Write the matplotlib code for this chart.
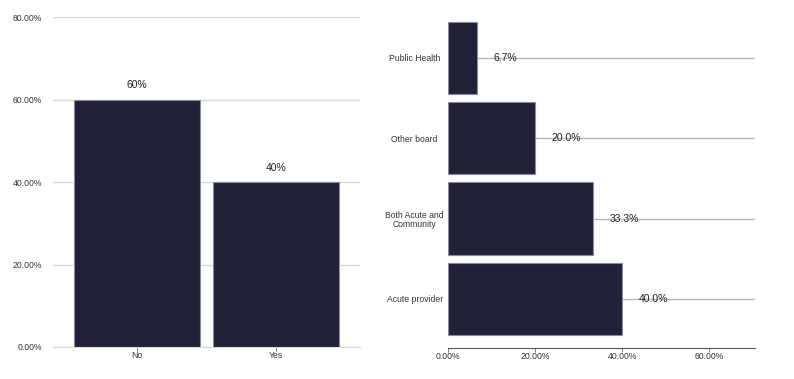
import matplotlib.pyplot as plt
from matplotlib.ticker import FuncFormatter

plt.rcParams['font.family'] = ['Liberation Sans', 'DejaVu Sans']

# Left chart data
answers = ["No", "Yes"]
answer_pct = [60, 40]
answer_labels = ["60%", "40%"]

# Right chart data (bottom to top)
providers = ["Acute provider", "Both Acute and\nCommunity", "Other board", "Public Health"]
provider_pct = [40.0, 33.3, 20.0, 6.7]

BAR = "#21213a"
EDGE = "#8a8a9a"

fig = plt.figure(figsize=(7.94, 3.79), dpi=100)
W, H = 794, 379

# left axes: x 53..360, y 17..347
ax1 = fig.add_axes([53 / W, 1 - 347 / H, (360 - 53) / W, (347 - 17) / H])
ax1.bar(range(len(answers)), answer_pct, width=0.906, color=BAR, edgecolor=EDGE, linewidth=0.8, zorder=3)
for i, (v, lab) in enumerate(zip(answer_pct, answer_labels)):
    ax1.annotate(lab, (i, v), xytext=(0, 6.5), textcoords="offset points",
                 ha="center", va="bottom", fontsize=7.5, color="#222222")
ax1.set_xlim(-0.6, 1.6)
ax1.set_ylim(0, 80)
ax1.set_yticks([0, 20, 40, 60, 80])
ax1.yaxis.set_major_formatter(FuncFormatter(lambda v, p: f"{v:.2f}%"))
ax1.set_xticks(range(len(answers)))
ax1.set_xticklabels(answers)
ax1.grid(axis="y", color="#d9d9d9", linewidth=1, zorder=0)
for s in ["top", "right", "left"]:
    ax1.spines[s].set_visible(False)
ax1.spines["bottom"].set_color("#d9d9d9")
ax1.tick_params(axis="y", length=0, pad=8, labelsize=6.2, labelcolor="#333333")
ax1.tick_params(axis="x", length=3, width=0.6, color="#666666", pad=0, labelsize=6.2, labelcolor="#333333")

# right axes: x 448..755, y 12..348
ax2 = fig.add_axes([448 / W, 1 - 348 / H, (755 - 448) / W, (348 - 12) / H])
yp = range(len(providers))
ax2.barh(yp, provider_pct, height=0.9, color=BAR, edgecolor=EDGE, linewidth=0.8, zorder=3)
for i, v in enumerate(provider_pct):
    ax2.annotate(f"{v:.1f}%", (v, i), xytext=(12, 0), textcoords="offset points",
                 ha="left", va="center", fontsize=7.5, color="#222222", zorder=4)
ax2.set_xlim(0, 70.5)
ax2.set_ylim(-0.61, 3.57)
ax2.set_xticks([0, 20, 40, 60])
ax2.xaxis.set_major_formatter(FuncFormatter(lambda v, p: f"{v:.2f}%"))
ax2.set_yticks(list(yp))
ax2.set_yticklabels(providers, ha="center", linespacing=1.0)
ax2.grid(axis="y", color="#b8b8b8", linewidth=1, zorder=0)
for s in ["top", "right", "left"]:
    ax2.spines[s].set_visible(False)
ax2.spines["bottom"].set_color("#555555")
ax2.spines["bottom"].set_linewidth(0.8)
ax2.tick_params(axis="y", length=0, pad=24, labelsize=6.2, labelcolor="#333333")
ax2.tick_params(axis="x", length=3, width=0.6, color="#666666", pad=0, labelsize=6.2, labelcolor="#333333")

fig.savefig("out.png", dpi=100)
